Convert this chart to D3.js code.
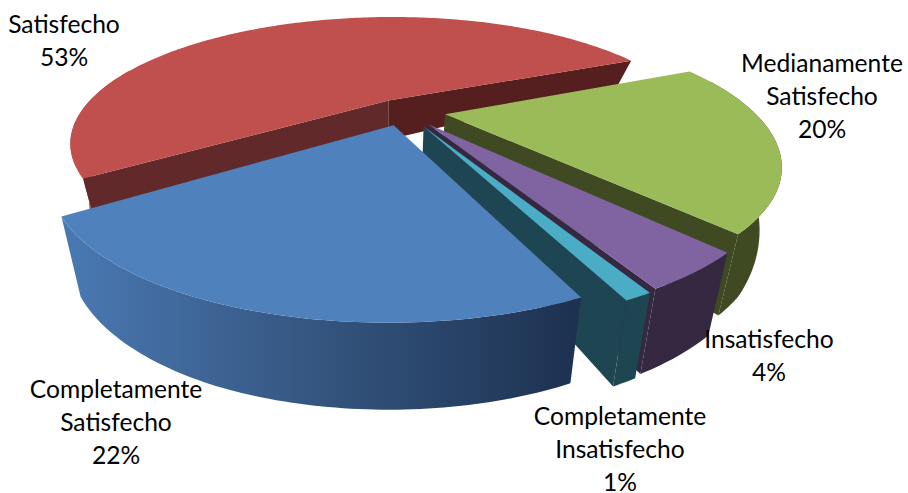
<!DOCTYPE html>
<html><head><meta charset="utf-8">
<script src="https://cdn.jsdelivr.net/npm/d3@7/dist/d3.min.js"></script>
<style>html,body{margin:0;padding:0;background:#fff}svg{display:block}text{font-family:Lato,"Open Sans",sans-serif;font-size:24.6px;fill:#000}</style>
</head><body><svg id="c" width="908" height="493"></svg>
<script>
const categories=["Medianamente Satisfecho","Insatisfecho","Completamente Insatisfecho","Completamente Satisfecho","Satisfecho"];
const values=[20,4,1,22,53];
const explode=[0.135,0.135,0.14,0.12,0.105];
const topColors=["#9bbb59","#8064a2","#4bacc6","#4f81bd","#c0504d"];
const sideStartColors=["#3f4a23","#352841","#1e4652","#1e4652","#62292a"];
const sideEndColors=["#3f4a23","#352841","#1e4652","#1e4652","#541f1e"];
const wallColors=["#3f4a23","#352841","#1e4652","url(#blueWall)","#a9433f"];
const labelLines=[["Medianamente","Satisfecho","20%"],["Insatisfecho","4%"],["Completamente","Insatisfecho","1%"],["Completamente","Satisfecho","22%"],["Satisfecho","53%"]];
const labelAnchors=[[822,72],[769,348],[620,425],[116,398],[64,33]];
const drawOrder=[4,0,1,2,3];

const svg=d3.select("#c");
const cx=404,cy=111,A=308,B=118,P=0.339,Nx=394,shrink=0.9426;
const depth=d3.scaleLinear().domain([58,216,300,323]).range([24,80,86,87]);
const defs=svg.append("defs");
const g=defs.append("linearGradient").attr("id","blueWall").attr("gradientUnits","userSpaceOnUse").attr("x1",62).attr("x2",577).attr("y1",0).attr("y2",0);
g.append("stop").attr("offset",0).attr("stop-color","#4a79b3");
g.append("stop").attr("offset",.5).attr("stop-color","#34557f");
g.append("stop").attr("offset",1).attr("stop-color","#1d3150");

const pie=d3.pie().sort(null).startAngle(66*Math.PI/180).endAngle(426*Math.PI/180);
const arcs=pie(values);
const line=d3.line();
function proj(x,y){const w=1+P*y;return [cx+A*x/w,cy-B*y/w];}
function bot(p){return [Nx+(p[0]-Nx)*shrink,p[1]+depth(p[1])];}
drawOrder.forEach(i=>{
  const a=arcs[i],mid=(a.startAngle+a.endAngle)/2;
  const ex=explode[i]*Math.sin(mid),ey=explode[i]*Math.cos(mid);
  const n=Math.max(6,Math.ceil((a.endAngle-a.startAngle)*60));
  const ts=d3.range(n+1).map(k=>a.startAngle+(a.endAngle-a.startAngle)*k/n);
  const pt=t=>proj(ex+Math.sin(t),ey+Math.cos(t));
  const rim=ts.map(pt);
  const apex=proj(ex,ey);
  const apexB=bot(apex);
  const front=ts.filter(t=>Math.cos(t)<0.3).map(pt);
  if(front.length>1) svg.append("path").attr("d",line(front.concat(front.map(bot).reverse()))+"Z").attr("fill",wallColors[i]);
  if(Math.sin(a.startAngle)<0) svg.append("path").attr("d",line([apex,rim[0],bot(rim[0]),apexB])+"Z").attr("fill",sideStartColors[i]);
  if(Math.sin(a.endAngle)>0) svg.append("path").attr("d",line([apex,rim[n],bot(rim[n]),apexB])+"Z").attr("fill",sideEndColors[i]);
  svg.append("path").attr("d",line([apex].concat(rim))+"Z").attr("fill",topColors[i]);
});
labelLines.forEach((ls,i)=>{
  const t=svg.append("text").attr("text-anchor","middle");
  ls.forEach((s,j)=>t.append("tspan").attr("x",labelAnchors[i][0]).attr("y",labelAnchors[i][1]+j*32.8).text(s));
});
</script></body></html>
